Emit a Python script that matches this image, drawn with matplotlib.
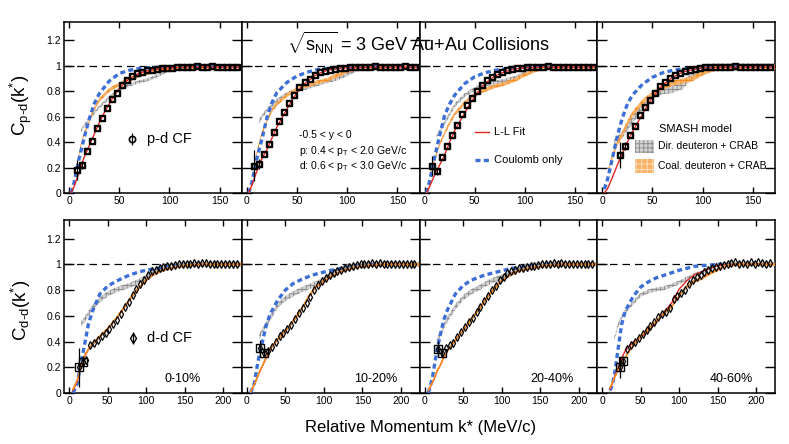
import numpy as np
import matplotlib
matplotlib.use("Agg")
import matplotlib.pyplot as plt
from matplotlib.patches import Rectangle
from matplotlib.lines import Line2D

plt.rcParams['font.family'] = ['Liberation Sans', 'DejaVu Sans']
plt.rcParams['mathtext.fontset'] = 'custom'
plt.rcParams['mathtext.rm'] = 'Liberation Sans'
plt.rcParams['mathtext.it'] = 'Liberation Sans:italic'
plt.rcParams['hatch.linewidth'] = 0.6

nan = np.nan
centralities = ["0-10%", "10-20%", "20-40%", "40-60%"]

# ---------------- p-d (top row) ----------------
pd_k = [7.5, 12.5, 17.5, 22.5, 27.5, 32.5, 37.5, 42.5, 47.5, 52.5, 57.5, 62.5, 67.5, 72.5, 77.5,
        82.5, 87.5, 92.5, 97.5, 102.5, 107.5, 112.5, 117.5, 122.5, 127.5, 132.5, 137.5, 142.5,
        147.5, 152.5, 157.5, 162.5, 167.5]
pd_c1 = [0.18, 0.22, 0.33, 0.41, 0.51, 0.59, 0.67, 0.74, 0.79, 0.85, 0.89, 0.92, 0.94, 0.955, 0.965,
         0.97, 0.975, 0.98, 0.985, 0.985, 0.99, 0.99, 0.99, 0.99, 0.995, 0.99, 0.99, 0.995, 0.99,
         0.99, 0.99, 0.99, 0.99]
pd_c2 = [0.215, 0.23, 0.31, 0.385, 0.48, 0.57, 0.64, 0.71, 0.77, 0.83, 0.87, 0.90, 0.93, 0.95, 0.96,
         0.97, 0.975, 0.98, 0.985, 0.99, 0.99, 0.99, 0.99, 0.99, 0.995, 0.99, 0.99, 0.99, 0.99,
         0.99, 0.995, 0.99, 0.99]
pd_c3 = [0.21, 0.17, 0.28, 0.37, 0.46, 0.535, 0.62, 0.69, 0.75, 0.80, 0.85, 0.89, 0.91, 0.935, 0.95,
         0.965, 0.975, 0.98, 0.985, 0.99, 0.99, 0.99, 0.99, 0.995, 0.99, 0.99, 0.99, 0.99, 0.99,
         0.99, 0.99, 0.99, 0.99]
pd_c4 = [nan, nan, 0.30, 0.37, 0.46, 0.53, 0.61, 0.675, 0.735, 0.785, 0.84, 0.875, 0.905, 0.925, 0.945,
         0.96, 0.97, 0.975, 0.98, 0.99, 0.99, 0.99, 0.99, 0.99, 0.99, 0.995, 0.99, 0.99, 0.99,
         0.99, 0.99, 0.99, 0.99]
pd_err_k = [[7.5, 12.5], [7.5, 12.5], [7.5, 12.5], [17.5, 22.5]]
pd_err_v = [[0.18, 0.22], [0.215, 0.23], [0.21, 0.17], [0.30, 0.37]]
pd_err_e = [[0.08, 0.03], [0.12, 0.04], [0.08, 0.03], [0.10, 0.03]]

pd_fit_k = [2, 5, 10, 15, 20, 25, 30, 35, 40, 45, 50, 55, 60, 70, 80, 90, 100, 120, 172]
pd_fit1 = [0.0, 0.05, 0.16, 0.28, 0.37, 0.46, 0.55, 0.63, 0.70, 0.765, 0.82, 0.865, 0.90, 0.945, 0.965, 0.978, 0.985, 0.99, 0.99]
pd_fit2 = [0.0, 0.06, 0.17, 0.27, 0.34, 0.43, 0.52, 0.59, 0.66, 0.73, 0.79, 0.84, 0.875, 0.935, 0.965, 0.978, 0.985, 0.99, 0.99]
pd_fit3 = [0.0, 0.05, 0.14, 0.22, 0.30, 0.40, 0.49, 0.56, 0.63, 0.70, 0.755, 0.81, 0.86, 0.92, 0.955, 0.975, 0.985, 0.99, 0.99]
pd_fit4 = [0.0, 0.03, 0.12, 0.22, 0.31, 0.40, 0.48, 0.55, 0.62, 0.69, 0.75, 0.80, 0.85, 0.91, 0.95, 0.97, 0.985, 0.99, 0.99]

pd_coul_k = [2, 5, 10, 15, 20, 25, 30, 40, 50, 60, 70, 80, 100, 120, 172]
pd_coul1 = [0.0, 0.08, 0.27, 0.43, 0.58, 0.70, 0.78, 0.88, 0.94, 0.965, 0.98, 0.985, 0.99, 0.995, 0.995]
pd_coul2 = [0.0, 0.08, 0.27, 0.42, 0.59, 0.71, 0.79, 0.87, 0.92, 0.95, 0.97, 0.98, 0.99, 0.995, 0.995]
pd_coul3 = [0.0, 0.09, 0.28, 0.45, 0.61, 0.70, 0.77, 0.86, 0.915, 0.945, 0.965, 0.975, 0.99, 0.995, 0.995]
pd_coul4 = [0.03, 0.10, 0.27, 0.45, 0.59, 0.70, 0.77, 0.855, 0.91, 0.945, 0.965, 0.975, 0.99, 0.995, 0.995]

pd_band_k = [6, 9, 12, 15, 20, 25, 30, 40, 50, 60, 70, 80, 90, 100, 110, 120, 140, 172]
pd_dir1 = [nan, nan, 0.49, 0.53, 0.58, 0.63, 0.675, 0.75, 0.815, 0.85, 0.875, 0.895, 0.93, 0.97, 0.985, 0.99, 0.99, 0.99]
pd_dir2 = [nan, nan, 0.56, 0.60, 0.65, 0.69, 0.725, 0.78, 0.81, 0.83, 0.855, 0.88, 0.90, 0.935, 0.975, 0.99, 0.99, 0.99]
pd_dir3 = [nan, nan, 0.45, 0.48, 0.55, 0.62, 0.69, 0.77, 0.82, 0.85, 0.87, 0.885, 0.905, 0.94, 0.975, 0.99, 0.99, 0.99]
pd_dir4 = [nan, nan, 0.39, 0.42, 0.46, 0.52, 0.57, 0.685, 0.77, 0.805, 0.815, 0.845, 0.93, 0.975, 0.99, 0.99, 0.99, 0.99]
pd_dir_w = [0.012, 0.015, 0.015, 0.028]
pd_coal1 = [nan, 0.26, 0.38, 0.46, 0.56, 0.66, 0.73, 0.81, 0.855, 0.89, 0.925, 0.95, 0.97, 0.98, 0.985, 0.99, 0.99, 0.99]
pd_coal2 = [0.18, 0.28, 0.38, 0.47, 0.57, 0.65, 0.70, 0.77, 0.815, 0.845, 0.87, 0.89, 0.925, 0.96, 0.98, 0.985, 0.99, 0.99]
pd_coal3 = [0.15, 0.23, 0.31, 0.38, 0.47, 0.55, 0.62, 0.71, 0.775, 0.81, 0.84, 0.86, 0.89, 0.93, 0.965, 0.985, 0.99, 0.99]
pd_coal4 = [0.17, 0.26, 0.33, 0.39, 0.46, 0.55, 0.62, 0.715, 0.78, 0.83, 0.865, 0.88, 0.90, 0.945, 0.975, 0.99, 0.99, 0.99]
pd_coal_w = [0.015, 0.015, 0.015, 0.02]

# ---------------- d-d (bottom row) ----------------
dd_k = [12.5 + 5 * i for i in range(42)]
dd_c1 = [0.20, 0.24, 0.26, 0.37, 0.385, 0.41, 0.44, 0.465, 0.50, 0.535, 0.57, 0.615, 0.665, 0.71, 0.76,
         0.81, 0.845, 0.88, 0.915, 0.945, 0.96, 0.97, 0.98, 0.985, 0.99, 0.995, 1.0, 1.0, 1.005,
         1.0, 1.01, 1.005, 1.01, 1.01, 1.005, 1.0, 1.005, 1.0, 1.005, 1.0, 1.0, 1.0]
dd_c2 = [nan, 0.35, 0.31, 0.33, 0.36, 0.40, 0.44, 0.47, 0.50, 0.53, 0.575, 0.62, 0.66, 0.70, 0.75,
         0.80, 0.84, 0.87, 0.895, 0.92, 0.935, 0.95, 0.96, 0.97, 0.98, 0.99, 0.995, 1.0, 1.0,
         1.005, 1.01, 1.005, 1.01, 1.0, 1.005, 1.0, 1.0, 1.0, 1.005, 1.0, 1.0, 1.0]
dd_c3 = [nan, 0.345, 0.31, 0.35, 0.37, 0.39, 0.435, 0.475, 0.515, 0.55, 0.585, 0.63, 0.67, 0.715, 0.755,
         0.80, 0.835, 0.875, 0.905, 0.93, 0.95, 0.96, 0.97, 0.975, 0.98, 0.985, 0.99, 0.995, 1.0,
         1.0, 1.005, 1.01, 1.005, 1.01, 1.0, 1.005, 1.0, 1.005, 1.0, 1.0, 1.005, 1.0]
dd_c4 = [nan, nan, 0.20, 0.25, 0.34, 0.375, 0.40, 0.43, 0.46, 0.49, 0.52, 0.555, 0.59, 0.615, 0.63,
         0.66, 0.73, 0.755, 0.78, 0.80, 0.845, 0.875, 0.90, 0.92, 0.94, 0.955, 0.97, 0.98, 0.99,
         0.995, 1.0, 1.01, 1.02, 1.005, 1.01, 1.0, 1.02, 1.0, 1.02, 1.01, 1.0, 1.01]
dd_err_k = [[12.5, 17.5], [17.5, 22.5], [17.5, 22.5], [22.5, 27.5]]
dd_err_v = [[0.20, 0.24], [0.35, 0.31], [0.345, 0.31], [0.20, 0.25]]
dd_err_e = [[0.15, 0.05], [0.06, 0.03], [0.06, 0.03], [0.08, 0.04]]

dd_curve_k = [0, 5, 10, 13, 16, 20, 25, 30, 40, 50, 60, 70, 80, 90, 100, 110, 120, 130, 140, 150, 160, 180, 200, 229]
dd_coul1 = [nan, 0.0, 0.06, 0.15, 0.25, 0.37, 0.53, 0.63, 0.77, 0.83, 0.865, 0.895, 0.92, 0.94, 0.955, 0.965, 0.975, 0.985, 0.99, 0.995, 1.0, 1.0, 1.0, 1.0]
dd_coul2 = [nan, 0.0, 0.08, 0.19, 0.29, 0.39, 0.52, 0.61, 0.72, 0.80, 0.85, 0.88, 0.905, 0.925, 0.94, 0.955, 0.965, 0.975, 0.985, 0.99, 0.995, 1.0, 1.0, 1.0]
dd_coul3 = [nan, 0.0, 0.11, 0.22, 0.33, 0.44, 0.57, 0.65, 0.77, 0.835, 0.875, 0.90, 0.92, 0.935, 0.95, 0.965, 0.975, 0.985, 0.99, 0.995, 1.0, 1.0, 1.0, 1.0]
dd_coul4 = [nan, nan, 0.02, 0.06, 0.15, 0.32, 0.53, 0.64, 0.75, 0.825, 0.865, 0.895, 0.915, 0.935, 0.955, 0.97, 0.985, 0.99, 0.995, 1.0, 1.0, 1.0, 1.0, 1.0]

dd_dir1 = [nan, nan, nan, nan, 0.54, 0.57, 0.615, 0.66, 0.725, 0.77, 0.80, 0.82, 0.84, 0.865, 0.90, 0.94, 0.965, 0.985, 0.995, 1.0, 1.0, 1.0, 1.0, 1.0]
dd_dir2 = [nan, nan, nan, nan, 0.44, 0.48, 0.535, 0.58, 0.68, 0.735, 0.77, 0.80, 0.825, 0.85, 0.88, 0.925, 0.96, 0.98, 0.99, 0.995, 1.0, 1.0, 1.0, 1.0]
dd_dir3 = [nan, nan, nan, nan, 0.41, 0.45, 0.52, 0.575, 0.67, 0.74, 0.785, 0.815, 0.85, 0.88, 0.90, 0.92, 0.955, 0.98, 0.99, 0.995, 1.0, 1.0, 1.0, 1.0]
dd_dir4 = [nan, nan, nan, nan, 0.425, 0.52, 0.59, 0.635, 0.70, 0.765, 0.79, 0.805, 0.815, 0.835, 0.86, 0.89, 0.92, 0.94, 0.975, 1.0, 1.0, 1.0, 1.0, 1.0]
dd_dir_w = [0.02, 0.02, 0.02, 0.015]

dd_coal1 = [nan, 0.03, 0.09, 0.15, 0.22, 0.29, 0.34, 0.38, 0.44, 0.50, 0.57, 0.655, 0.74, 0.815, 0.88, 0.925, 0.95, 0.97, 0.98, 0.99, 0.995, 1.0, 1.0, 1.0]
dd_coal2 = [nan, 0.01, 0.07, 0.115, 0.16, 0.21, 0.275, 0.34, 0.42, 0.48, 0.555, 0.64, 0.75, 0.83, 0.87, 0.91, 0.94, 0.96, 0.975, 0.985, 0.99, 1.0, 1.0, 1.0]
dd_coal3 = [nan, 0.02, 0.08, 0.12, 0.17, 0.21, 0.275, 0.33, 0.41, 0.485, 0.565, 0.645, 0.73, 0.81, 0.87, 0.915, 0.945, 0.96, 0.975, 0.985, 0.99, 1.0, 1.0, 1.0]
dd_coal4 = [nan, nan, 0.04, 0.08, 0.12, 0.17, 0.23, 0.28, 0.37, 0.445, 0.50, 0.56, 0.615, 0.67, 0.76, 0.83, 0.87, 0.895, 0.93, 0.96, 0.99, 1.0, 1.0, 1.0]
dd_coal_w = [0.012, 0.012, 0.012, 0.012]

dd_fit1 = [nan, 0.02, 0.08, 0.14, 0.21, 0.28, 0.335, 0.375, 0.435, 0.495, 0.565, 0.65, 0.735, 0.81, 0.875, 0.92, 0.95, 0.97, 0.98, 0.99, 0.995, 1.0, 1.0, 1.0]
dd_fit2 = [nan, 0.01, 0.07, 0.11, 0.155, 0.205, 0.27, 0.335, 0.415, 0.48, 0.56, 0.645, 0.745, 0.825, 0.87, 0.91, 0.94, 0.96, 0.975, 0.985, 0.99, 1.0, 1.0, 1.0]
dd_fit3 = [nan, 0.02, 0.075, 0.115, 0.165, 0.21, 0.275, 0.33, 0.41, 0.49, 0.57, 0.65, 0.735, 0.815, 0.875, 0.92, 0.95, 0.965, 0.98, 0.99, 0.995, 1.0, 1.0, 1.0]
dd_fit4 = [nan, nan, 0.03, 0.07, 0.13, 0.19, 0.27, 0.33, 0.395, 0.43, 0.485, 0.545, 0.63, 0.70, 0.81, 0.875, 0.92, 0.945, 0.97, 0.99, 1.0, 1.0, 1.0, 1.0]

top = dict(k=pd_k, data=[pd_c1, pd_c2, pd_c3, pd_c4], ek=pd_err_k, ev=pd_err_v, ee=pd_err_e,
           fk=pd_fit_k, fit=[pd_fit1, pd_fit2, pd_fit3, pd_fit4],
           ck=pd_coul_k, coul=[pd_coul1, pd_coul2, pd_coul3, pd_coul4],
           bk=pd_band_k, dirb=[pd_dir1, pd_dir2, pd_dir3, pd_dir4], dirw=pd_dir_w,
           coalb=[pd_coal1, pd_coal2, pd_coal3, pd_coal4], coalw=pd_coal_w)
bot = dict(k=dd_k, data=[dd_c1, dd_c2, dd_c3, dd_c4], ek=dd_err_k, ev=dd_err_v, ee=dd_err_e,
           fk=dd_curve_k, fit=[dd_fit1, dd_fit2, dd_fit3, dd_fit4],
           ck=dd_curve_k, coul=[dd_coul1, dd_coul2, dd_coul3, dd_coul4],
           bk=dd_curve_k, dirb=[dd_dir1, dd_dir2, dd_dir3, dd_dir4], dirw=dd_dir_w,
           coalb=[dd_coal1, dd_coal2, dd_coal3, dd_coal4], coalw=dd_coal_w)

BLUE = '#3b6fd6'
RED = '#e3261f'
GRAY_F = '#d2d2d2'
GRAY_E = '#8a8a8a'
OR_F = '#f8b26a'
OR_E = '#f28a1e'

W, H = 789, 444
fig = plt.figure(figsize=(W / 100, H / 100), dpi=100)
left0, pw = 64, 177.75
rows = [(22, 193), (220, 393)]
xlims = [(-5, 172), (-6.5, 224)]
xticks = [[0, 50, 100, 150], [0, 50, 100, 150, 200]]

axes = []
for r, (ytop, ybot) in enumerate(rows):
    spec = top if r == 0 else bot
    for c in range(4):
        ax = fig.add_axes([(left0 + c * pw) / W, 1 - ybot / H, pw / W, (ybot - ytop) / H])
        axes.append(ax)
        ax.set_xlim(*xlims[r])
        ax.set_ylim(0, 1.345)
        for s in ax.spines.values():
            s.set_linewidth(1.1)
        ax.set_xticks(xticks[r])
        ax.set_yticks([0, 0.2, 0.4, 0.6, 0.8, 1.0, 1.2])
        ax.tick_params(axis='y', direction='in', length=7, width=1.0, left=True, right=True, labelsize=7.5, pad=2)
        ax.tick_params(axis='x', direction='in', length=4, width=1.0, top=True, bottom=True, labelsize=7.5, pad=2)
        if c == 0:
            ax.set_yticklabels(['0', '0.2', '0.4', '0.6', '0.8', '1', '1.2'])
        else:
            ax.set_yticklabels([])
        ax.set_xticklabels([str(t) for t in xticks[r]])

        ax.axhline(1.0, color='black', lw=0.9, dashes=(6, 4), zorder=1)

        band_z = 3 if r == 0 else 5.5
        bk = np.array(spec['bk'], dtype=float)
        dv = np.array(spec['dirb'][c], dtype=float)
        dw = spec['dirw'][c]
        ax.fill_between(bk, dv - dw, dv + dw, facecolor=GRAY_F, edgecolor=GRAY_E, hatch='++++', lw=0.0, zorder=2)
        cv = np.array(spec['coalb'][c], dtype=float)
        cw = spec['coalw'][c]
        ax.fill_between(bk, cv - cw, cv + cw, facecolor=OR_F, edgecolor=OR_E, hatch='+++', lw=0.0, zorder=band_z)
        if r == 1:
            ax.plot(bk, cv, color=OR_E, lw=0.9, zorder=band_z)

        ax.plot(spec['ck'], spec['coul'][c], color=BLUE, lw=2.4, dashes=(1.5, 1.0), zorder=4)
        ax.plot(spec['fk'], spec['fit'][c], color=RED, lw=1.0, zorder=5)

        k = np.array(spec['k'], dtype=float)
        v = np.array(spec['data'][c], dtype=float)
        ax.errorbar(spec['ek'][c], spec['ev'][c], yerr=spec['ee'][c], fmt='none', ecolor='black', elinewidth=0.9, zorder=6)
        if r == 0:
            ax.plot(k, v, ls='none', marker='s', ms=5.0, mfc='none', mec='black', mew=1.0, zorder=7)
            ax.plot(k, v, ls='none', marker='o', ms=3.6, mfc='none', mec='black', mew=1.2, zorder=7)
        else:
            ax.plot(spec['ek'][c], spec['ev'][c], ls='none', marker='s', ms=6.0, mfc='none', mec='black', mew=1.0, zorder=7)
            ax.plot(k, v, ls='none', marker='d', ms=4.2, mfc='none', mec='black', mew=0.9, zorder=7)

        if r == 1:
            cx = [0.67, 0.754, 0.743, 0.753][c]
            ax.text(cx, 0.08, centralities[c], transform=ax.transAxes, ha='center', va='center', fontsize=9)

# text annotations
a1, a2, a3, a4 = axes[0], axes[1], axes[2], axes[3]
b1 = axes[4]
a1.errorbar([0.381], [0.316], yerr=[0.035], transform=a1.transAxes, fmt='o', ms=4.5, mfc='none', mec='black',
            mew=1.2, ecolor='black', elinewidth=0.9)
a1.text(0.467, 0.316, 'p-d CF', transform=a1.transAxes, ha='left', va='center', fontsize=10.5)
b1.errorbar([0.388], [0.318], yerr=[0.035], transform=b1.transAxes, fmt='d', ms=5.0, mfc='none', mec='black',
            mew=1.0, ecolor='black', elinewidth=0.9)
b1.text(0.467, 0.318, 'd-d CF', transform=b1.transAxes, ha='left', va='center', fontsize=10.5)

a2.text(0.32, 0.34, '-0.5 < y < 0', transform=a2.transAxes, fontsize=7.5, va='center')
a2.text(0.32, 0.245, r'p: 0.4 < p$_{\mathrm{T}}$ < 2.0 GeV/c', transform=a2.transAxes, fontsize=7.5, va='center')
a2.text(0.32, 0.155, r'd: 0.6 < p$_{\mathrm{T}}$ < 3.0 GeV/c', transform=a2.transAxes, fontsize=7.5, va='center')

a3.add_line(Line2D([0.31, 0.39], [0.357, 0.357], transform=a3.transAxes, color=RED, lw=1.0))
a3.text(0.42, 0.357, 'L-L Fit', transform=a3.transAxes, fontsize=8, va='center')
a3.add_line(Line2D([0.31, 0.39], [0.193, 0.193], transform=a3.transAxes, color=BLUE, lw=2.4, dashes=(1.5, 1.0)))
a3.text(0.42, 0.193, 'Coulomb only', transform=a3.transAxes, fontsize=8, va='center')

a4.text(0.346, 0.374, 'SMASH model', transform=a4.transAxes, fontsize=8, va='center')
a4.add_patch(Rectangle((0.212, 0.236), 0.105, 0.074, transform=a4.transAxes, facecolor=GRAY_F,
                       edgecolor=GRAY_E, hatch='++++', lw=0.0))
a4.text(0.34, 0.273, 'Dir. deuteron + CRAB', transform=a4.transAxes, fontsize=7.5, va='center')
a4.add_patch(Rectangle((0.212, 0.119), 0.105, 0.080, transform=a4.transAxes, facecolor=OR_F,
                       edgecolor='#fde3c4', hatch='+++', lw=0.0))
a4.text(0.34, 0.16, 'Coal. deuteron + CRAB', transform=a4.transAxes, fontsize=7.5, va='center')

fig.text(418 / W, 1 - 43 / H, r'$\sqrt{\mathrm{s}_{\mathrm{NN}}}$ = 3 GeV Au+Au Collisions', ha='center', va='center', fontsize=13)
fig.text(421 / W, 1 - 427 / H, 'Relative Momentum k* (MeV/c)', ha='center', va='center', fontsize=12)
fig.text(21 / W, 1 - 105 / H, 'C$_{\\mathrm{p\u2010d}}$(k$^{*}$)', rotation=90, ha='center', va='center', fontsize=13.5)
fig.text(21 / W, 1 - 310 / H, 'C$_{\\mathrm{d\u2010d}}$(k$^{*}$)', rotation=90, ha='center', va='center', fontsize=13.5)

fig.savefig('out.png', dpi=100)
